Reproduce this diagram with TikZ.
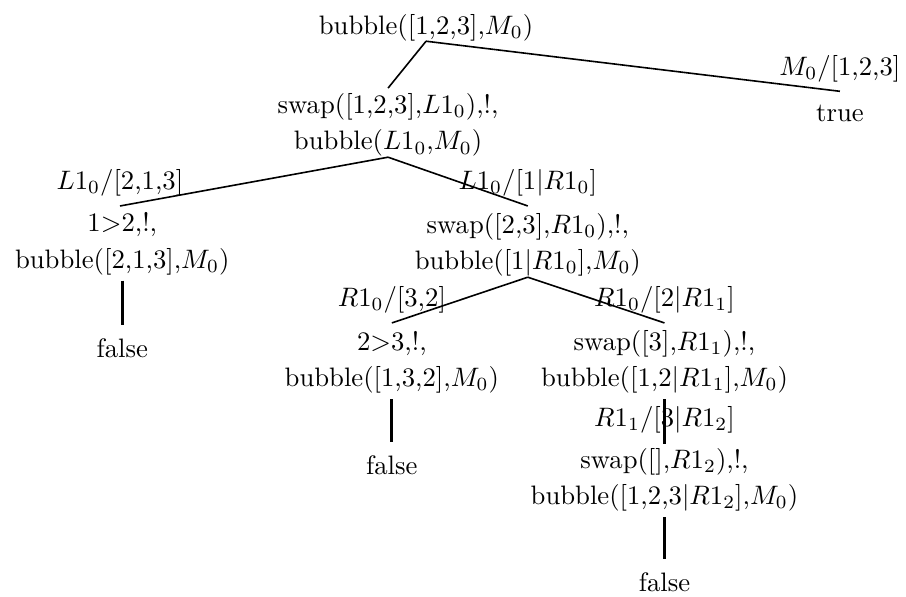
\documentclass[tikz,border=0pt]{standalone}
\tikzset{
  goal/.style={inner sep=0pt, align=center},
  subst/.style={inner sep=3.4pt},
  branch/.style={semithick},
  single/.style={very thick, shorten <=2pt, shorten >=5pt},
}

\begin{document}
\begin{tikzpicture}
        \useasboundingbox (0,0) rectangle (11.93,-7.85);

        % Root goal and first resolution step
        \node[goal] (root) at (5.61, -0.36) {bubble([1,2,3],$M_0$)};
        \node[goal] (n1) at (5.11, -1.65) {swap([1,2,3],$L1_0$),!,\\[1.5pt]bubble($L1_0$,$M_0$)};
        \node[goal] (true) at (11.06, -1.49) {true};
        \node[subst] (sM) at (11.06, -0.90) {$M_0/$[1,2,3]};

        \draw[branch] (root.south) -- ([yshift=2pt]n1.north);
        \draw[branch] (root.south) -- (sM.south);

        % Children of swap([1,2,3],...)
        \node[subst] (sL1) at (1.58, -2.41) {$L1_0/$[2,1,3]};
        \node[goal] (n2) at (1.61, -3.21) {1>2,!,\\[1.5pt]bubble([2,1,3],$M_0$)};
        \node[goal] (false1) at (1.61, -4.59) {false};

        \node[subst] (sL2) at (6.95, -2.41) {$L1_0/$[1|$R1_0$]};
        \node[goal] (n3) at (6.95, -3.23) {swap([2,3],$R1_0$),!,\\[1.5pt]bubble([1|$R1_0$],$M_0$)};

        \draw[branch] (n1.south) -- (sL1.south);
        \draw[branch] (n1.south) -- (sL2.south);
        \draw[single] (n2.south) -- (false1.north);

        % Children of swap([2,3],...)
        \node[subst] (sR1) at (5.16, -3.95) {$R1_0/$[3,2]};
        \node[goal] (n4) at (5.16, -4.77) {2>3,!,\\[1.5pt]bubble([1,3,2],$M_0$)};
        \node[goal] (false2) at (5.16, -6.13) {false};

        \node[subst] (sR2) at (8.75, -3.95) {$R1_0/$[2|$R1_1$]};
        \node[goal] (n5) at (8.75, -4.77) {swap([3],$R1_1$),!,\\[1.5pt]bubble([1,2|$R1_1$],$M_0$)};

        \draw[branch] (n3.south) -- (sR1.south);
        \draw[branch] (n3.south) -- (sR2.south);
        \draw[single] (n4.south) -- (false2.north);

        % Last chain
        \node[goal] (sR3) at (8.75, -5.53) {$R1_1/$[3|$R1_2$]};
        \node[goal] (n6) at (8.75, -6.32) {swap([],$R1_2$),!,\\[1.5pt]bubble([1,2,3|$R1_2$],$M_0$)};
        \node[goal] (false3) at (8.75, -7.67) {false};

        \draw[single, shorten >=1.5pt] (n5.south) -- (n6.north);
        \draw[single] (n6.south) -- (false3.north);

    \end{tikzpicture}
\end{document}
